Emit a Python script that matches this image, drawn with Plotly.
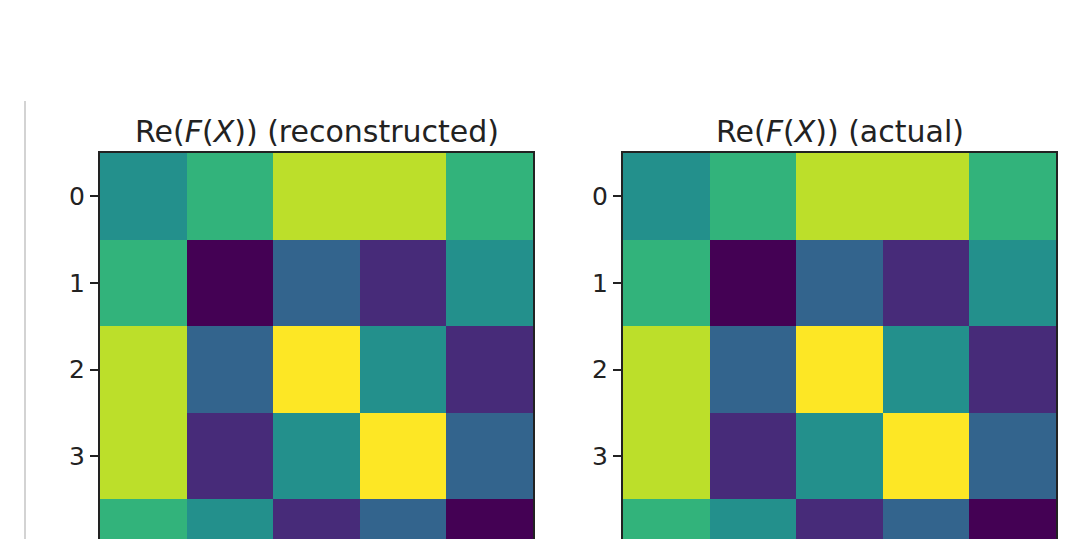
import plotly.graph_objects as go

# Real part of the transformed matrix: reconstructed vs actual
rows = [0, 1, 2, 3, 4]
cols = [0, 1, 2, 3, 4]

re_reconstructed = [
    [0.50, 0.65, 0.90, 0.90, 0.65],
    [0.65, 0.00, 0.32, 0.12, 0.50],
    [0.90, 0.32, 1.00, 0.50, 0.12],
    [0.90, 0.12, 0.50, 1.00, 0.32],
    [0.65, 0.50, 0.12, 0.32, 0.00],
]

re_actual = [
    [0.50, 0.65, 0.90, 0.90, 0.65],
    [0.65, 0.00, 0.32, 0.12, 0.50],
    [0.90, 0.32, 1.00, 0.50, 0.12],
    [0.90, 0.12, 0.50, 1.00, 0.32],
    [0.65, 0.50, 0.12, 0.32, 0.00],
]

titles = ["Re(<i>F</i>(<i>X</i>)) (reconstructed)", "Re(<i>F</i>(<i>X</i>)) (actual)"]

W, H = 1085, 539
FONT = "DejaVu Sans"
INK = "#222222"

# square cells of ~86.6 px; the figure ends part-way through the last row
cell = 433 / 5
top_px = 153
y_end = -0.5 + (H - top_px) / cell

fig = go.Figure()
for i, z in enumerate([re_reconstructed, re_actual]):
    sfx = "" if i == 0 else "2"
    fig.add_trace(go.Heatmap(
        z=z, x=cols, y=rows, colorscale="Viridis", zmin=0, zmax=1,
        showscale=False, xaxis="x" + sfx, yaxis="y" + sfx,
        hoverinfo="skip",
    ))

x_domains = [[100 / W, 533 / W], [623 / W, 1056 / W]]
y_domain = [0, 1 - top_px / H]

for i, dom in enumerate(x_domains):
    sfx = "" if i == 0 else "2"
    fig.layout["xaxis" + sfx] = dict(
        domain=dom, range=[-0.5, 4.5], side="top", showline=True,
        linecolor=INK, linewidth=2, mirror=False, ticks="",
        showticklabels=False, showgrid=False, zeroline=False,
        anchor="y" + sfx,
    )
    fig.layout["yaxis" + sfx] = dict(
        domain=y_domain, range=[y_end, -0.5], showline=True, mirror=True,
        linecolor=INK, linewidth=2, ticks="outside", ticklen=8,
        tickwidth=1.5, tickcolor=INK, tickvals=rows,
        ticktext=[str(r) for r in rows],
        tickfont=dict(family=FONT, size=25, color=INK),
        showgrid=False, zeroline=False, anchor="x" + sfx,
    )
    fig.add_annotation(
        text=titles[i], xref="paper", yref="paper",
        x=(dom[0] + dom[1]) / 2, y=1 - 131 / H,
        xanchor="center", yanchor="middle", showarrow=False,
        font=dict(family=FONT, size=30, color=INK),
    )

# thin vertical rule at the left edge
fig.add_shape(type="line", xref="paper", yref="paper",
              x0=25 / W, x1=25 / W, y0=0, y1=1 - 101 / H,
              line=dict(color="#d3d3d3", width=2))

fig.update_layout(
    width=W, height=H, margin=dict(l=0, r=0, t=0, b=0),
    paper_bgcolor="white", plot_bgcolor="white",
    font=dict(family=FONT, color=INK),
)

fig.write_html("out.html")
